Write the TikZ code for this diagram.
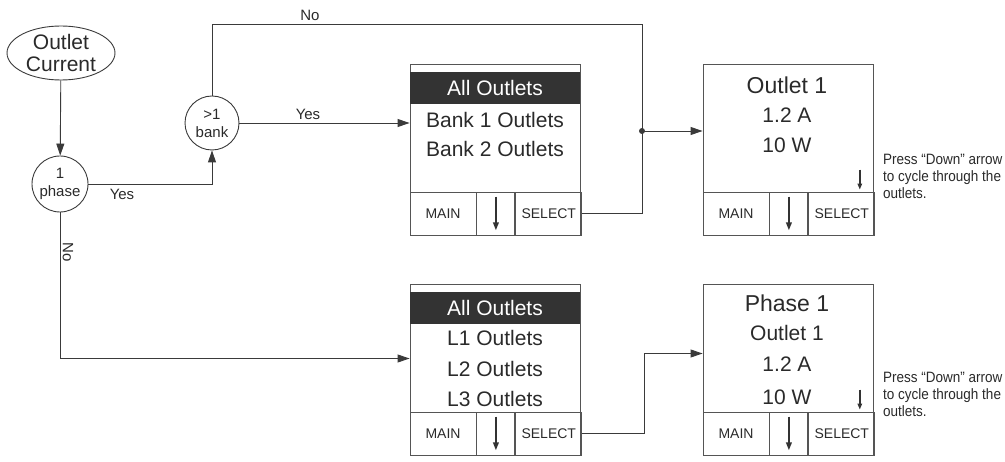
\documentclass[tikz,border=0pt]{standalone}
\usepackage{fontspec}
\setmainfont{Liberation Sans}
\newfontfamily\narrowfont[FakeStretch=0.9]{Liberation Sans}
\usetikzlibrary{arrows.meta,positioning,shapes.geometric}
\definecolor{linegray}{HTML}{3A3A3A}
\definecolor{boxgray}{HTML}{555555}
\definecolor{bandgray}{HTML}{333333}
\definecolor{textgray}{HTML}{2A2A2A}
\tikzset{
  flow/.style={draw=linegray,line width=0.9pt},
  arr/.style={flow,-{Triangle[length=12pt,width=8pt]}},
  keyarr/.style={draw=bandgray,line width=1.9pt,-{Triangle[length=8pt,width=5.5pt]}},
  smallarr/.style={draw=bandgray,line width=1.4pt,-{Triangle[length=6pt,width=4.5pt]}},
  screen/.style={draw=boxgray,line width=0.9pt,minimum width=170pt,minimum height=171pt,inner sep=0pt},
  band/.style={fill=bandgray,text=white,minimum width=170pt,minimum height=32pt,inner sep=0pt,font=\fontsize{21}{22}\selectfont},
  item/.style={inner sep=0pt,font=\fontsize{21}{22}\selectfont},
  cell/.style={draw=boxgray,line width=0.9pt,minimum height=43pt,inner sep=0pt,font=\fontsize{14}{14}\selectfont},
  decision/.style={circle,draw=linegray,line width=0.9pt,minimum size=56pt,inner sep=0pt,align=center,font=\fontsize{15}{18}\selectfont},
  lbl/.style={inner sep=0pt,font=\fontsize{15}{15}\selectfont},
  note/.style={inner sep=0pt,anchor=west,align=left,font=\narrowfont\fontsize{15}{17}\selectfont},
  every node/.style={text=textgray}
}
\begin{document}
\begin{tikzpicture}[x=1pt,y=-1pt]
\useasboundingbox (0,0) rectangle (1005,462);
\node[ellipse,draw=linegray,line width=0.9pt,minimum width=108pt,minimum height=54pt,inner sep=0pt,align=center,font=\fontsize{21}{22}\selectfont] (OC) at (61,53) {Outlet\\Current};
\node[decision] (PH) at (60,184) {1\\phase};
\node[decision,minimum size=54pt] (BK) at (212,123) {>1\\bank};

\node[screen] (M1) at (495,149.5) {};
\node[band] (H1) at (495,88) {All Outlets};
\node[item] (T11) at (495,120) {Bank 1 Outlets};
\node[item] (T12) at (495,149) {Bank 2 Outlets};
\node[cell,minimum width=66pt,anchor=south west] (A1) at (M1.south west) {MAIN};
\node[cell,minimum width=38pt,right=0pt of A1] (D1) {};
\node[cell,minimum width=66pt,right=0pt of D1] (K1) {SELECT};
\draw[keyarr] ([yshift=-5pt]D1.north) -- ([yshift=5pt]D1.south);

\node[screen] (M2) at (788,149.5) {};
\node[item,font=\fontsize{23}{24}\selectfont] (T21) at (787,85) {Outlet 1};
\node[item] (T22) at (787,115) {1.2 A};
\node[item] (T23) at (787,145) {10 W};
\node[cell,minimum width=66pt,anchor=south west] (A2) at (M2.south west) {MAIN};
\node[cell,minimum width=38pt,right=0pt of A2] (D2) {};
\node[cell,minimum width=66pt,right=0pt of D2] (K2) {SELECT};
\draw[keyarr] ([yshift=-5pt]D2.north) -- ([yshift=5pt]D2.south);
\draw[smallarr] ([xshift=18pt,yshift=22pt]K2.north) -- ([xshift=18pt,yshift=2pt]K2.north);
\node[note] (N2) at (883,176) {Press “Down” arrow\\to cycle through the\\outlets.};

\node[screen] (M3) at (495,369.5) {};
\node[band] (H3) at (495,308) {All Outlets};
\node[item] (T31) at (495,338) {L1 Outlets};
\node[item] (T32) at (495,369) {L2 Outlets};
\node[item] (T33) at (495,399) {L3 Outlets};
\node[cell,minimum width=66pt,anchor=south west] (A3) at (M3.south west) {MAIN};
\node[cell,minimum width=38pt,right=0pt of A3] (D3) {};
\node[cell,minimum width=66pt,right=0pt of D3] (K3) {SELECT};
\draw[keyarr] ([yshift=-5pt]D3.north) -- ([yshift=5pt]D3.south);

\node[screen] (M4) at (788,369.5) {};
\node[item,font=\fontsize{23}{24}\selectfont] (T41) at (787,303) {Phase 1};
\node[item] (T42) at (787,333) {Outlet 1};
\node[item] (T43) at (787,364) {1.2 A};
\node[item] (T44) at (787,397) {10 W};
\node[cell,minimum width=66pt,anchor=south west] (A4) at (M4.south west) {MAIN};
\node[cell,minimum width=38pt,right=0pt of A4] (D4) {};
\node[cell,minimum width=66pt,right=0pt of D4] (K4) {SELECT};
\draw[keyarr] ([yshift=-5pt]D4.north) -- ([yshift=5pt]D4.south);
\draw[smallarr] ([xshift=18pt,yshift=22pt]K4.north) -- ([xshift=18pt,yshift=2pt]K4.north);
\node[note] (N4) at (883,394) {Press “Down” arrow\\to cycle through the\\outlets.};

\coordinate (J) at (642,131);
\coordinate (JT) at (642,24);
\draw[arr] (OC) -- (PH);
\draw[arr] (PH.east) -| (BK.south);
\node[lbl] (Y1) at (122,194) {Yes};
\draw[arr] (BK.east) -- (BK.east -| M1.west);
\node[lbl] (Y2) at (308,114) {Yes};
\draw[flow] (BK.north) |- (JT) -- (J);
\node[lbl] (N1) at (310,15) {No};
\draw[flow] (K1.east) -| (J);
\fill[linegray] (J) circle (3pt);
\draw[arr] (J) -- (J -| M2.west);
\draw[arr] (PH.south) |- ([yshift=11pt]M3.west);
\node[lbl,rotate=-90] (N3) at (68,252) {No};
\draw[arr] (K3.east) -- ++(62,0) |- ([yshift=16pt]M4.west);
\end{tikzpicture}
\end{document}
